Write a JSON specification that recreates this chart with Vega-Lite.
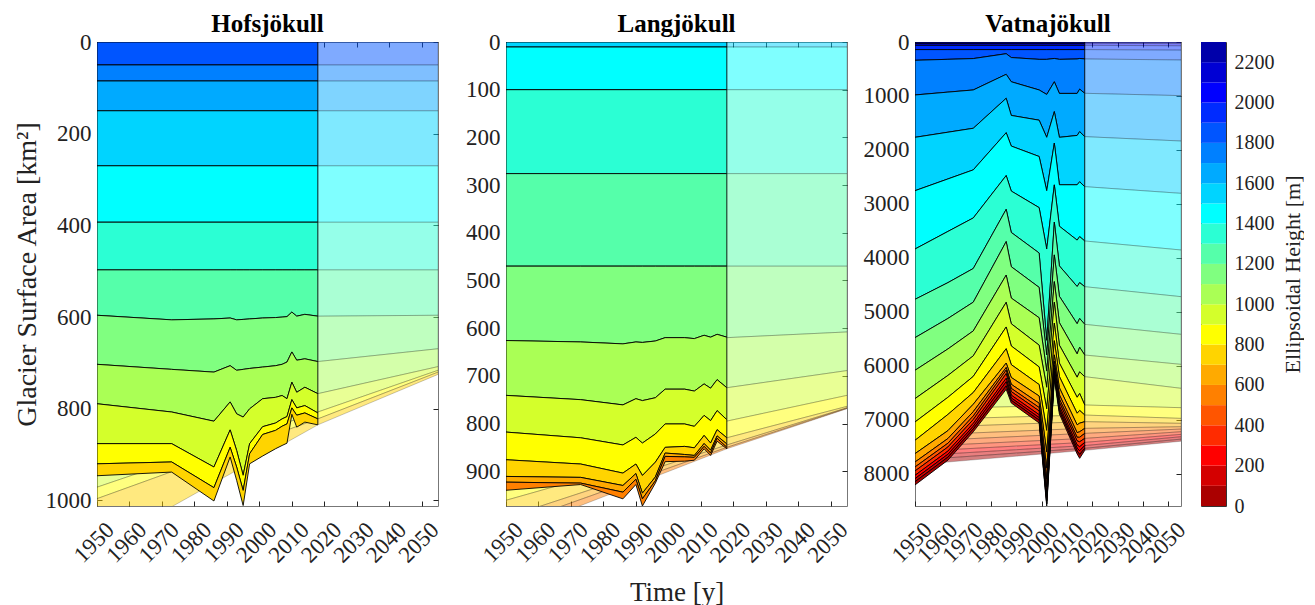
{
"$schema":"https://vega.github.io/schema/vega-lite/v6.json",
"background":"white",
"padding":{"left":12,"top":11,"right":0,"bottom":0},
"spacing":9,
"datasets":{
"hofO":[
{"t":1950,"e":1800,"y":50,"y2":0},{"t":2018,"e":1800,"y":50,"y2":0},
{"t":1950,"e":1700,"y":85,"y2":50},{"t":2018,"e":1700,"y":85,"y2":50},
{"t":1950,"e":1600,"y":150,"y2":85},{"t":2018,"e":1600,"y":150,"y2":85},
{"t":1950,"e":1500,"y":270,"y2":150},{"t":2018,"e":1500,"y":270,"y2":150},
{"t":1950,"e":1400,"y":393,"y2":270},{"t":2018,"e":1400,"y":393,"y2":270},
{"t":1950,"e":1300,"y":497,"y2":393},{"t":2018,"e":1300,"y":497,"y2":393},
{"t":1950,"e":1200,"y":596,"y2":497},{"t":1973,"e":1200,"y":606,"y2":497},{"t":1986,"e":1200,"y":604,"y2":497},{"t":1991,"e":1200,"y":602,"y2":497},{"t":1993,"e":1200,"y":606,"y2":497},{"t":1995,"e":1200,"y":605,"y2":497},{"t":1997,"e":1200,"y":604,"y2":497},{"t":2001,"e":1200,"y":602,"y2":497},{"t":2005,"e":1200,"y":601,"y2":497},{"t":2007,"e":1200,"y":600,"y2":497},{"t":2008.5,"e":1200,"y":599,"y2":497},{"t":2010,"e":1200,"y":589,"y2":497},{"t":2011.5,"e":1200,"y":598,"y2":497},{"t":2014,"e":1200,"y":594,"y2":497},{"t":2018,"e":1200,"y":598,"y2":497},
{"t":1950,"e":1100,"y":703,"y2":596},{"t":1973,"e":1100,"y":714,"y2":606},{"t":1986,"e":1100,"y":720,"y2":604},{"t":1991,"e":1100,"y":706,"y2":602},{"t":1993,"e":1100,"y":716,"y2":606},{"t":1995,"e":1100,"y":714,"y2":605},{"t":1997,"e":1100,"y":712,"y2":604},{"t":2001,"e":1100,"y":709,"y2":602},{"t":2005,"e":1100,"y":706,"y2":601},{"t":2007,"e":1100,"y":703,"y2":600},{"t":2008.5,"e":1100,"y":698,"y2":599},{"t":2010,"e":1100,"y":676,"y2":589},{"t":2011.5,"e":1100,"y":694,"y2":598},{"t":2014,"e":1100,"y":691,"y2":594},{"t":2018,"e":1100,"y":697,"y2":598},
{"t":1950,"e":1000,"y":789,"y2":703},{"t":1973,"e":1000,"y":807,"y2":714},{"t":1986,"e":1000,"y":827,"y2":720},{"t":1991,"e":1000,"y":785,"y2":706},{"t":1993,"e":1000,"y":811,"y2":716},{"t":1995,"e":1000,"y":818,"y2":714},{"t":1997,"e":1000,"y":800,"y2":712},{"t":2001,"e":1000,"y":778,"y2":709},{"t":2005,"e":1000,"y":775,"y2":706},{"t":2007,"e":1000,"y":771,"y2":703},{"t":2008.5,"e":1000,"y":778,"y2":698},{"t":2010,"e":1000,"y":742,"y2":676},{"t":2011.5,"e":1000,"y":764,"y2":694},{"t":2014,"e":1000,"y":753,"y2":691},{"t":2018,"e":1000,"y":767,"y2":697},
{"t":1950,"e":900,"y":876,"y2":789},{"t":1973,"e":900,"y":876,"y2":807},{"t":1986,"e":900,"y":927,"y2":827},{"t":1991,"e":900,"y":846,"y2":785},{"t":1993,"e":900,"y":891,"y2":811},{"t":1995,"e":900,"y":945,"y2":818},{"t":1997,"e":900,"y":876,"y2":800},{"t":2001,"e":900,"y":839,"y2":778},{"t":2005,"e":900,"y":831,"y2":775},{"t":2007,"e":900,"y":822,"y2":771},{"t":2008.5,"e":900,"y":817,"y2":778},{"t":2010,"e":900,"y":780,"y2":742},{"t":2011.5,"e":900,"y":798,"y2":764},{"t":2014,"e":900,"y":793,"y2":753},{"t":2018,"e":900,"y":809,"y2":767},
{"t":1950,"e":800,"y":920,"y2":876},{"t":1973,"e":800,"y":916,"y2":876},{"t":1986,"e":800,"y":972,"y2":927},{"t":1991,"e":800,"y":884,"y2":846},{"t":1993,"e":800,"y":927,"y2":891},{"t":1995,"e":800,"y":978,"y2":945},{"t":1997,"e":800,"y":898,"y2":876},{"t":2001,"e":800,"y":856,"y2":839},{"t":2005,"e":800,"y":847,"y2":831},{"t":2007,"e":800,"y":838,"y2":822},{"t":2008.5,"e":800,"y":833,"y2":817},{"t":2010,"e":800,"y":798,"y2":780},{"t":2011.5,"e":800,"y":814,"y2":798},{"t":2014,"e":800,"y":809,"y2":793},{"t":2018,"e":800,"y":822,"y2":809},
{"t":1950,"e":700,"y":946,"y2":920},{"t":1973,"e":700,"y":938,"y2":916},{"t":1986,"e":700,"y":1001,"y2":972},{"t":1991,"e":700,"y":905,"y2":884},{"t":1993,"e":700,"y":956,"y2":927},{"t":1995,"e":700,"y":1011,"y2":978},{"t":1997,"e":700,"y":920,"y2":898},{"t":2001,"e":700,"y":903,"y2":856},{"t":2005,"e":700,"y":887,"y2":847},{"t":2007,"e":700,"y":880,"y2":838},{"t":2008.5,"e":700,"y":875,"y2":833},{"t":2010,"e":700,"y":812,"y2":798},{"t":2011.5,"e":700,"y":840,"y2":814},{"t":2014,"e":700,"y":829,"y2":809},{"t":2018,"e":700,"y":835,"y2":822}
],
"hofP":[
{"t":1950,"e":1800,"y":50,"y2":0},{"t":2055,"e":1800,"y":50,"y2":0},
{"t":1950,"e":1700,"y":85,"y2":50},{"t":2055,"e":1700,"y":85,"y2":50},
{"t":1950,"e":1600,"y":150,"y2":85},{"t":2055,"e":1600,"y":150,"y2":85},
{"t":1950,"e":1500,"y":270,"y2":150},{"t":2055,"e":1500,"y":270,"y2":150},
{"t":1950,"e":1400,"y":393,"y2":270},{"t":2055,"e":1400,"y":393,"y2":270},
{"t":1950,"e":1300,"y":497,"y2":393},{"t":2055,"e":1300,"y":497,"y2":393},
{"t":1950,"e":1200,"y":598,"y2":497},{"t":2018,"e":1200,"y":598,"y2":497},{"t":2055,"e":1200,"y":596,"y2":497},
{"t":1950,"e":1100,"y":705,"y2":598},{"t":2018,"e":1100,"y":697,"y2":598},{"t":2055,"e":1100,"y":669,"y2":596},
{"t":1950,"e":1000,"y":850,"y2":705},{"t":2018,"e":1000,"y":767,"y2":697},{"t":2055,"e":1000,"y":708,"y2":669},
{"t":1950,"e":900,"y":971,"y2":850},{"t":2018,"e":900,"y":807,"y2":767},{"t":2055,"e":900,"y":716,"y2":708},
{"t":1950,"e":800,"y":996,"y2":971},{"t":2018,"e":800,"y":822,"y2":807},{"t":2055,"e":800,"y":720,"y2":716},
{"t":1950,"e":700,"y":1105,"y2":996},{"t":2018,"e":700,"y":835,"y2":822},{"t":2055,"e":700,"y":725,"y2":720}
],
"lanO":[
{"t":1950,"e":1500,"y":10.5,"y2":0},{"t":2018,"e":1500,"y":10.5,"y2":0},
{"t":1950,"e":1400,"y":100,"y2":10.5},{"t":2018,"e":1400,"y":100,"y2":10.5},
{"t":1950,"e":1300,"y":276,"y2":100},{"t":2018,"e":1300,"y":276,"y2":100},
{"t":1950,"e":1200,"y":470,"y2":276},{"t":2018,"e":1200,"y":470,"y2":276},
{"t":1950,"e":1100,"y":626,"y2":470},{"t":1973,"e":1100,"y":629,"y2":470},{"t":1986,"e":1100,"y":633,"y2":470},{"t":1990,"e":1100,"y":629,"y2":470},{"t":1992,"e":1100,"y":630,"y2":470},{"t":1996,"e":1100,"y":627,"y2":470},{"t":1999,"e":1100,"y":620,"y2":470},{"t":2005,"e":1100,"y":620,"y2":470},{"t":2008,"e":1100,"y":622,"y2":470},{"t":2011,"e":1100,"y":615,"y2":470},{"t":2013,"e":1100,"y":619,"y2":470},{"t":2015,"e":1100,"y":613,"y2":470},{"t":2018,"e":1100,"y":619,"y2":470},
{"t":1950,"e":1000,"y":741,"y2":626},{"t":1973,"e":1000,"y":750,"y2":629},{"t":1986,"e":1000,"y":761,"y2":633},{"t":1990,"e":1000,"y":748,"y2":629},{"t":1992,"e":1000,"y":752,"y2":630},{"t":1996,"e":1000,"y":746,"y2":627},{"t":1999,"e":1000,"y":728,"y2":620},{"t":2005,"e":1000,"y":728,"y2":620},{"t":2008,"e":1000,"y":732,"y2":622},{"t":2011,"e":1000,"y":717,"y2":615},{"t":2013,"e":1000,"y":726,"y2":619},{"t":2015,"e":1000,"y":708,"y2":613},{"t":2018,"e":1000,"y":725,"y2":619},
{"t":1950,"e":900,"y":818,"y2":741},{"t":1973,"e":900,"y":830,"y2":750},{"t":1986,"e":900,"y":845,"y2":761},{"t":1990,"e":900,"y":829,"y2":748},{"t":1992,"e":900,"y":841,"y2":752},{"t":1996,"e":900,"y":822,"y2":746},{"t":1999,"e":900,"y":801,"y2":728},{"t":2005,"e":900,"y":801,"y2":728},{"t":2008,"e":900,"y":806,"y2":732},{"t":2011,"e":900,"y":783,"y2":717},{"t":2013,"e":900,"y":794,"y2":726},{"t":2015,"e":900,"y":773,"y2":708},{"t":2018,"e":900,"y":792,"y2":725},
{"t":1950,"e":800,"y":876,"y2":818},{"t":1973,"e":800,"y":885,"y2":830},{"t":1986,"e":800,"y":904,"y2":845},{"t":1990,"e":800,"y":885,"y2":829},{"t":1992,"e":800,"y":909,"y2":841},{"t":1996,"e":800,"y":881,"y2":822},{"t":1999,"e":800,"y":850,"y2":801},{"t":2005,"e":800,"y":848,"y2":801},{"t":2008,"e":800,"y":851,"y2":806},{"t":2011,"e":800,"y":825,"y2":783},{"t":2013,"e":800,"y":841,"y2":794},{"t":2015,"e":800,"y":813,"y2":773},{"t":2018,"e":800,"y":830,"y2":792},
{"t":1950,"e":700,"y":911,"y2":876},{"t":1973,"e":700,"y":913,"y2":885},{"t":1986,"e":700,"y":930,"y2":904},{"t":1990,"e":700,"y":905,"y2":885},{"t":1992,"e":700,"y":946,"y2":909},{"t":1996,"e":700,"y":912,"y2":881},{"t":1999,"e":700,"y":862,"y2":850},{"t":2005,"e":700,"y":865,"y2":848},{"t":2008,"e":700,"y":867,"y2":851},{"t":2011,"e":700,"y":842,"y2":825},{"t":2013,"e":700,"y":856,"y2":841},{"t":2015,"e":700,"y":826,"y2":813},{"t":2018,"e":700,"y":843,"y2":830},
{"t":1950,"e":600,"y":923,"y2":911},{"t":1973,"e":600,"y":925,"y2":913},{"t":1986,"e":600,"y":944,"y2":930},{"t":1990,"e":600,"y":917,"y2":905},{"t":1992,"e":600,"y":958,"y2":946},{"t":1996,"e":600,"y":920,"y2":912},{"t":1999,"e":600,"y":869,"y2":862},{"t":2005,"e":600,"y":870,"y2":865},{"t":2008,"e":600,"y":871,"y2":867},{"t":2011,"e":600,"y":848,"y2":842},{"t":2013,"e":600,"y":862,"y2":856},{"t":2015,"e":600,"y":831,"y2":826},{"t":2018,"e":600,"y":850,"y2":843},
{"t":1950,"e":500,"y":940,"y2":923},{"t":1973,"e":500,"y":928,"y2":925},{"t":1986,"e":500,"y":958,"y2":944},{"t":1990,"e":500,"y":928,"y2":917},{"t":1992,"e":500,"y":973,"y2":958},{"t":1996,"e":500,"y":925,"y2":920},{"t":1999,"e":500,"y":880,"y2":869},{"t":2005,"e":500,"y":879,"y2":870},{"t":2008,"e":500,"y":877,"y2":871},{"t":2011,"e":500,"y":853,"y2":848},{"t":2013,"e":500,"y":867,"y2":862},{"t":2015,"e":500,"y":837,"y2":831},{"t":2018,"e":500,"y":853,"y2":850}
],
"lanP":[
{"t":1950,"e":1500,"y":10.5,"y2":0},{"t":2055,"e":1500,"y":10.5,"y2":0},
{"t":1950,"e":1400,"y":100,"y2":10.5},{"t":2055,"e":1400,"y":100,"y2":10.5},
{"t":1950,"e":1300,"y":276,"y2":100},{"t":2055,"e":1300,"y":276,"y2":100},
{"t":1950,"e":1200,"y":470,"y2":276},{"t":2055,"e":1200,"y":470,"y2":276},
{"t":1950,"e":1100,"y":626,"y2":470},{"t":2018,"e":1100,"y":620,"y2":470},{"t":2055,"e":1100,"y":608,"y2":470},
{"t":1950,"e":1000,"y":745,"y2":626},{"t":2018,"e":1000,"y":725,"y2":620},{"t":2055,"e":1000,"y":689,"y2":608},
{"t":1950,"e":900,"y":930,"y2":745},{"t":2018,"e":900,"y":795,"y2":725},{"t":2055,"e":900,"y":741,"y2":689},
{"t":1950,"e":800,"y":961,"y2":930},{"t":2018,"e":800,"y":830,"y2":795},{"t":2055,"e":800,"y":764,"y2":741},
{"t":1950,"e":700,"y":997,"y2":961},{"t":2018,"e":700,"y":845,"y2":830},{"t":2055,"e":700,"y":767,"y2":764},
{"t":1950,"e":600,"y":1015,"y2":997},{"t":2018,"e":600,"y":850,"y2":845},{"t":2055,"e":600,"y":768,"y2":767},
{"t":1950,"e":500,"y":1033,"y2":1015},{"t":2018,"e":500,"y":853,"y2":850},{"t":2055,"e":500,"y":769,"y2":768}
],
"vatO":[
{"t":1950,"e":2100,"y":25,"y2":0},{"t":2017,"e":2100,"y":25,"y2":0},
{"t":1950,"e":2000,"y":61,"y2":25},{"t":2017,"e":2000,"y":61,"y2":25},
{"t":1950,"e":1900,"y":141,"y2":61},{"t":2017,"e":1900,"y":141,"y2":61},
{"t":1950,"e":1800,"y":339,"y2":141},{"t":1963,"e":1800,"y":321,"y2":141},{"t":1973,"e":1800,"y":307,"y2":141},{"t":1986,"e":1800,"y":217,"y2":141},{"t":1988,"e":1800,"y":288,"y2":141},{"t":1999,"e":1800,"y":322,"y2":141},{"t":2002,"e":1800,"y":322,"y2":141},{"t":2005,"e":1800,"y":305,"y2":141},{"t":2007,"e":1800,"y":322,"y2":141},{"t":2014,"e":1800,"y":315,"y2":141},{"t":2015,"e":1800,"y":305,"y2":141},{"t":2017,"e":1800,"y":314,"y2":141},
{"t":1950,"e":1700,"y":982,"y2":339},{"t":1963,"e":1700,"y":929,"y2":321},{"t":1973,"e":1700,"y":889,"y2":307},{"t":1986,"e":1700,"y":599,"y2":217},{"t":1988,"e":1700,"y":737,"y2":288},{"t":1999,"e":1700,"y":889,"y2":322},{"t":2002,"e":1700,"y":972,"y2":322},{"t":2005,"e":1700,"y":737,"y2":305},{"t":2007,"e":1700,"y":953,"y2":322},{"t":2014,"e":1700,"y":953,"y2":315},{"t":2015,"e":1700,"y":874,"y2":305},{"t":2017,"e":1700,"y":951,"y2":314},
{"t":1950,"e":1600,"y":1767,"y2":982},{"t":1963,"e":1600,"y":1672,"y2":929},{"t":1973,"e":1600,"y":1599,"y2":889},{"t":1986,"e":1600,"y":1043,"y2":599},{"t":1988,"e":1600,"y":1361,"y2":737},{"t":1999,"e":1600,"y":1449,"y2":889},{"t":2002,"e":1600,"y":1767,"y2":972},{"t":2005,"e":1600,"y":1290,"y2":737},{"t":2007,"e":1600,"y":1767,"y2":953},{"t":2014,"e":1600,"y":1732,"y2":953},{"t":2015,"e":1600,"y":1661,"y2":874},{"t":2017,"e":1600,"y":1754,"y2":951},
{"t":1950,"e":1500,"y":2756,"y2":1767},{"t":1963,"e":1500,"y":2538,"y2":1672},{"t":1973,"e":1500,"y":2370,"y2":1599},{"t":1986,"e":1500,"y":1681,"y2":1043},{"t":1988,"e":1500,"y":1929,"y2":1361},{"t":1999,"e":1500,"y":2122,"y2":1449},{"t":2002,"e":1500,"y":2756,"y2":1767},{"t":2005,"e":1500,"y":1874,"y2":1290},{"t":2007,"e":1500,"y":2646,"y2":1767},{"t":2014,"e":1500,"y":2646,"y2":1732},{"t":2015,"e":1500,"y":2591,"y2":1661},{"t":2017,"e":1500,"y":2681,"y2":1754},
{"t":1950,"e":1400,"y":3837,"y2":2756},{"t":1963,"e":1400,"y":3511,"y2":2538},{"t":1973,"e":1400,"y":3261,"y2":2370},{"t":1986,"e":1400,"y":2475,"y2":1681},{"t":1988,"e":1400,"y":2763,"y2":1929},{"t":1999,"e":1400,"y":3070,"y2":2122},{"t":2002,"e":1400,"y":3837,"y2":2756},{"t":2005,"e":1400,"y":2648,"y2":1874},{"t":2007,"e":1400,"y":3415,"y2":2646},{"t":2014,"e":1400,"y":3672,"y2":2646},{"t":2015,"e":1400,"y":3607,"y2":2591},{"t":2017,"e":1400,"y":3688,"y2":2681},
{"t":1950,"e":1300,"y":4770,"y2":3837},{"t":1963,"e":1300,"y":4460,"y2":3511},{"t":1973,"e":1300,"y":4198,"y2":3261},{"t":1986,"e":1300,"y":3101,"y2":2475},{"t":1988,"e":1300,"y":3530,"y2":2763},{"t":1999,"e":1300,"y":3911,"y2":3070},{"t":2002,"e":1300,"y":5530,"y2":3837},{"t":2005,"e":1300,"y":3339,"y2":2648},{"t":2007,"e":1300,"y":4150,"y2":3415},{"t":2014,"e":1300,"y":4532,"y2":3672},{"t":2015,"e":1300,"y":4460,"y2":3607},{"t":2017,"e":1300,"y":4535,"y2":3688},
{"t":1950,"e":1200,"y":5480,"y2":4770},{"t":1963,"e":1200,"y":5124,"y2":4460},{"t":1973,"e":1200,"y":4822,"y2":4198},{"t":1986,"e":1200,"y":3699,"y2":3101},{"t":1988,"e":1200,"y":4165,"y2":3530},{"t":1999,"e":1200,"y":4548,"y2":3911},{"t":2002,"e":1200,"y":5800,"y2":5530},{"t":2005,"e":1200,"y":3946,"y2":3339},{"t":2007,"e":1200,"y":4713,"y2":4150},{"t":2014,"e":1200,"y":5222,"y2":4532},{"t":2015,"e":1200,"y":5124,"y2":4460},{"t":2017,"e":1200,"y":5233,"y2":4535},
{"t":1950,"e":1100,"y":6085,"y2":5480},{"t":1963,"e":1100,"y":5689,"y2":5124},{"t":1973,"e":1100,"y":5355,"y2":4822},{"t":1986,"e":1100,"y":4320,"y2":3699},{"t":1988,"e":1100,"y":4746,"y2":4165},{"t":1999,"e":1100,"y":5111,"y2":4548},{"t":2002,"e":1100,"y":6100,"y2":5800},{"t":2005,"e":1100,"y":4442,"y2":3946},{"t":2007,"e":1100,"y":5203,"y2":4713},{"t":2014,"e":1100,"y":5781,"y2":5222},{"t":2015,"e":1100,"y":5659,"y2":5124},{"t":2017,"e":1100,"y":5802,"y2":5233},
{"t":1950,"e":1000,"y":6610,"y2":6085},{"t":1963,"e":1000,"y":6180,"y2":5689},{"t":1973,"e":1000,"y":5817,"y2":5355},{"t":1986,"e":1000,"y":4825,"y2":4320},{"t":1988,"e":1000,"y":5222,"y2":4746},{"t":1999,"e":1000,"y":5619,"y2":5111},{"t":2002,"e":1000,"y":6400,"y2":6100},{"t":2005,"e":1000,"y":4825,"y2":4442},{"t":2007,"e":1000,"y":5619,"y2":5203},{"t":2014,"e":1000,"y":6213,"y2":5781},{"t":2015,"e":1000,"y":6114,"y2":5659},{"t":2017,"e":1000,"y":6203,"y2":5802},
{"t":1950,"e":900,"y":7043,"y2":6610},{"t":1963,"e":900,"y":6585,"y2":6180},{"t":1973,"e":900,"y":6198,"y2":5817},{"t":1986,"e":900,"y":5282,"y2":4825},{"t":1988,"e":900,"y":5634,"y2":5222},{"t":1999,"e":900,"y":6022,"y2":5619},{"t":2002,"e":900,"y":6800,"y2":6400},{"t":2005,"e":900,"y":5212,"y2":4825},{"t":2007,"e":900,"y":5951,"y2":5619},{"t":2014,"e":900,"y":6585,"y2":6213},{"t":2015,"e":900,"y":6515,"y2":6114},{"t":2017,"e":900,"y":6728,"y2":6203},
{"t":1950,"e":800,"y":7383,"y2":7043},{"t":1963,"e":800,"y":6903,"y2":6585},{"t":1973,"e":800,"y":6497,"y2":6198},{"t":1986,"e":800,"y":5685,"y2":5282},{"t":1988,"e":800,"y":5980,"y2":5634},{"t":1999,"e":800,"y":6349,"y2":6022},{"t":2002,"e":800,"y":7200,"y2":6800},{"t":2005,"e":800,"y":5537,"y2":5212},{"t":2007,"e":800,"y":6202,"y2":5951},{"t":2014,"e":800,"y":6881,"y2":6585},{"t":2015,"e":800,"y":6829,"y2":6515},{"t":2017,"e":800,"y":6914,"y2":6728},
{"t":1950,"e":700,"y":7630,"y2":7383},{"t":1963,"e":700,"y":7203,"y2":6903},{"t":1973,"e":700,"y":6714,"y2":6497},{"t":1986,"e":700,"y":5951,"y2":5685},{"t":1988,"e":700,"y":6218,"y2":5980},{"t":1999,"e":700,"y":6562,"y2":6349},{"t":2002,"e":700,"y":7600,"y2":7200},{"t":2005,"e":700,"y":5799,"y2":5537},{"t":2007,"e":700,"y":6409,"y2":6202},{"t":2014,"e":700,"y":7096,"y2":6881},{"t":2015,"e":700,"y":7065,"y2":6829},{"t":2017,"e":700,"y":7037,"y2":6914},
{"t":1950,"e":600,"y":7785,"y2":7630},{"t":1963,"e":600,"y":7349,"y2":7203},{"t":1973,"e":600,"y":6851,"y2":6714},{"t":1986,"e":600,"y":6033,"y2":5951},{"t":1988,"e":600,"y":6345,"y2":6218},{"t":1999,"e":600,"y":6695,"y2":6562},{"t":2002,"e":600,"y":7900,"y2":7600},{"t":2005,"e":600,"y":5917,"y2":5799},{"t":2007,"e":600,"y":6539,"y2":6409},{"t":2014,"e":600,"y":7240,"y2":7096},{"t":2015,"e":600,"y":7224,"y2":7065},{"t":2017,"e":600,"y":7161,"y2":7037},
{"t":1950,"e":500,"y":7877,"y2":7785},{"t":1963,"e":500,"y":7436,"y2":7349},{"t":1973,"e":500,"y":6932,"y2":6851},{"t":1986,"e":500,"y":6081,"y2":6033},{"t":1988,"e":500,"y":6420,"y2":6345},{"t":1999,"e":500,"y":6774,"y2":6695},{"t":2002,"e":500,"y":8100,"y2":7900},{"t":2005,"e":500,"y":5987,"y2":5917},{"t":2007,"e":500,"y":6617,"y2":6539},{"t":2014,"e":500,"y":7326,"y2":7240},{"t":2015,"e":500,"y":7326,"y2":7224},{"t":2017,"e":500,"y":7254,"y2":7161},
{"t":1950,"e":400,"y":7951,"y2":7877},{"t":1963,"e":400,"y":7506,"y2":7436},{"t":1973,"e":400,"y":6997,"y2":6932},{"t":1986,"e":400,"y":6146,"y2":6081},{"t":1988,"e":400,"y":6480,"y2":6420},{"t":1999,"e":400,"y":6838,"y2":6774},{"t":2002,"e":400,"y":8250,"y2":8100},{"t":2005,"e":400,"y":6043,"y2":5987},{"t":2007,"e":400,"y":6679,"y2":6617},{"t":2014,"e":400,"y":7394,"y2":7326},{"t":2015,"e":400,"y":7410,"y2":7326},{"t":2017,"e":400,"y":7347,"y2":7254},
{"t":1950,"e":300,"y":8032,"y2":7951},{"t":1963,"e":300,"y":7582,"y2":7506},{"t":1973,"e":300,"y":7068,"y2":6997},{"t":1986,"e":300,"y":6233,"y2":6146},{"t":1988,"e":300,"y":6546,"y2":6480},{"t":1999,"e":300,"y":6908,"y2":6838},{"t":2002,"e":300,"y":8400,"y2":8250},{"t":2005,"e":300,"y":6104,"y2":6043},{"t":2007,"e":300,"y":6747,"y2":6679},{"t":2014,"e":300,"y":7470,"y2":7394},{"t":2015,"e":300,"y":7502,"y2":7410},{"t":2017,"e":300,"y":7421,"y2":7347},
{"t":1950,"e":200,"y":8094,"y2":8032},{"t":1963,"e":200,"y":7641,"y2":7582},{"t":1973,"e":200,"y":7123,"y2":7068},{"t":1986,"e":200,"y":6297,"y2":6233},{"t":1988,"e":200,"y":6597,"y2":6546},{"t":1999,"e":200,"y":6961,"y2":6908},{"t":2002,"e":200,"y":8500,"y2":8400},{"t":2005,"e":200,"y":6151,"y2":6104},{"t":2007,"e":200,"y":6799,"y2":6747},{"t":2014,"e":200,"y":7527,"y2":7470},{"t":2015,"e":200,"y":7576,"y2":7502},{"t":2017,"e":200,"y":7480,"y2":7421},
{"t":1950,"e":100,"y":8150,"y2":8094},{"t":1963,"e":100,"y":7694,"y2":7641},{"t":1973,"e":100,"y":7172,"y2":7123},{"t":1986,"e":100,"y":6373,"y2":6297},{"t":1988,"e":100,"y":6642,"y2":6597},{"t":1999,"e":100,"y":7009,"y2":6961},{"t":2002,"e":100,"y":8560,"y2":8500},{"t":2005,"e":100,"y":6194,"y2":6151},{"t":2007,"e":100,"y":6846,"y2":6799},{"t":2014,"e":100,"y":7580,"y2":7527},{"t":2015,"e":100,"y":7645,"y2":7576},{"t":2017,"e":100,"y":7530,"y2":7480},
{"t":1950,"e":0,"y":8210,"y2":8150},{"t":1963,"e":0,"y":7750,"y2":7694},{"t":1973,"e":0,"y":7225,"y2":7172},{"t":1986,"e":0,"y":6437,"y2":6373},{"t":1988,"e":0,"y":6691,"y2":6642},{"t":1999,"e":0,"y":7061,"y2":7009},{"t":2002,"e":0,"y":8600,"y2":8560},{"t":2005,"e":0,"y":6240,"y2":6194},{"t":2007,"e":0,"y":6896,"y2":6846},{"t":2014,"e":0,"y":7635,"y2":7580},{"t":2015,"e":0,"y":7717,"y2":7645},{"t":2017,"e":0,"y":7569,"y2":7530}
],
"vatP":[
{"t":1950,"e":2100,"y":25,"y2":0},{"t":2017,"e":2100,"y":25,"y2":0},{"t":2055,"e":2100,"y":30,"y2":0},
{"t":1950,"e":2000,"y":61,"y2":25},{"t":2017,"e":2000,"y":61,"y2":25},{"t":2055,"e":2000,"y":70,"y2":30},
{"t":1950,"e":1900,"y":141,"y2":61},{"t":2017,"e":1900,"y":141,"y2":61},{"t":2055,"e":1900,"y":150,"y2":70},
{"t":1950,"e":1800,"y":314,"y2":141},{"t":2017,"e":1800,"y":314,"y2":141},{"t":2055,"e":1800,"y":333,"y2":150},
{"t":1950,"e":1700,"y":951,"y2":314},{"t":2017,"e":1700,"y":951,"y2":314},{"t":2055,"e":1700,"y":994,"y2":333},
{"t":1950,"e":1600,"y":1754,"y2":951},{"t":2017,"e":1600,"y":1754,"y2":951},{"t":2055,"e":1600,"y":1835,"y2":994},
{"t":1950,"e":1500,"y":2681,"y2":1754},{"t":2017,"e":1500,"y":2681,"y2":1754},{"t":2055,"e":1500,"y":2805,"y2":1835},
{"t":1950,"e":1400,"y":3688,"y2":2681},{"t":2017,"e":1400,"y":3688,"y2":2681},{"t":2055,"e":1400,"y":3855,"y2":2805},
{"t":1950,"e":1300,"y":4535,"y2":3688},{"t":2017,"e":1300,"y":4535,"y2":3688},{"t":2055,"e":1300,"y":4720,"y2":3855},
{"t":1950,"e":1200,"y":5233,"y2":4535},{"t":2017,"e":1200,"y":5233,"y2":4535},{"t":2055,"e":1200,"y":5418,"y2":4720},
{"t":1950,"e":1100,"y":5802,"y2":5233},{"t":2017,"e":1100,"y":5802,"y2":5233},{"t":2055,"e":1100,"y":5975,"y2":5418},
{"t":1950,"e":1000,"y":6203,"y2":5802},{"t":2017,"e":1000,"y":6203,"y2":5802},{"t":2055,"e":1000,"y":6419,"y2":5975},
{"t":1950,"e":900,"y":6800,"y2":6203},{"t":2017,"e":900,"y":6728,"y2":6203},{"t":2055,"e":900,"y":6778,"y2":6419},
{"t":1950,"e":800,"y":7000,"y2":6800},{"t":2017,"e":800,"y":6914,"y2":6728},{"t":2055,"e":800,"y":6976,"y2":6778},
{"t":1950,"e":700,"y":7150,"y2":7000},{"t":2017,"e":700,"y":7037,"y2":6914},{"t":2055,"e":700,"y":7068,"y2":6976},
{"t":1950,"e":600,"y":7290,"y2":7150},{"t":2017,"e":600,"y":7161,"y2":7037},{"t":2055,"e":600,"y":7130,"y2":7068},
{"t":1950,"e":500,"y":7400,"y2":7290},{"t":2017,"e":500,"y":7254,"y2":7161},{"t":2055,"e":500,"y":7174,"y2":7130},
{"t":1950,"e":400,"y":7500,"y2":7400},{"t":2017,"e":400,"y":7347,"y2":7254},{"t":2055,"e":400,"y":7223,"y2":7174},
{"t":1950,"e":300,"y":7590,"y2":7500},{"t":2017,"e":300,"y":7421,"y2":7347},{"t":2055,"e":300,"y":7272,"y2":7223},
{"t":1950,"e":200,"y":7670,"y2":7590},{"t":2017,"e":200,"y":7480,"y2":7421},{"t":2055,"e":200,"y":7316,"y2":7272},
{"t":1950,"e":100,"y":7750,"y2":7670},{"t":2017,"e":100,"y":7530,"y2":7480},{"t":2055,"e":100,"y":7360,"y2":7316},
{"t":1950,"e":0,"y":7837,"y2":7750},{"t":2017,"e":0,"y":7569,"y2":7530},{"t":2055,"e":0,"y":7400,"y2":7360}
],
"cb":[
{"e":0,"e2":100},{"e":100,"e2":200},{"e":200,"e2":300},{"e":300,"e2":400},{"e":400,"e2":500},{"e":500,"e2":600},{"e":600,"e2":700},{"e":700,"e2":800},{"e":800,"e2":900},{"e":900,"e2":1000},{"e":1000,"e2":1100},{"e":1100,"e2":1200},{"e":1200,"e2":1300},{"e":1300,"e2":1400},{"e":1400,"e2":1500},{"e":1500,"e2":1600},{"e":1600,"e2":1700},{"e":1700,"e2":1800},{"e":1800,"e2":1900},{"e":1900,"e2":2000},{"e":2000,"e2":2100},{"e":2100,"e2":2200},{"e":2200,"e2":2300}
]
},
"hconcat":[
{
"width":341,"height":464,
"title":{"text":"Hofsjökull"},
"layer":[
{"data":{"name":"hofP"},
"mark":{"type":"area","fillOpacity":0.5,"stroke":"#000","strokeOpacity":0.3,"strokeWidth":0.7,"clip":true},
"encoding":{
"x":{"field":"t","type":"quantitative","scale":{"domain":[1950,2055],"nice":false,"zero":false},"axis":{"orient":"bottom","format":"d","values":[1950,1960,1970,1980,1990,2000,2010,2020,2030,2040,2050],"labelAngle":-45,"labelAlign":"right","labelBaseline":"middle","labelOffset":13,"labelPadding":25,"title":null}},
"y":{"field":"y","type":"quantitative","scale":{"domain":[0,1012],"reverse":true,"nice":false,"zero":false},"axis":{"orient":"left","format":"d","values":[0,200,400,600,800,1000],"labelPadding":11,"minExtent":52,"title":"Glacier Surface Area [km²]","titleFontSize":28,"titlePadding":4}},
"y2":{"field":"y2"},
"color":{"field":"e","type":"ordinal","scale":{"domain":[0,100,200,300,400,500,600,700,800,900,1000,1100,1200,1300,1400,1500,1600,1700,1800,1900,2000,2100,2200],"range":["#AA0000","#D40000","#FF0000","#FF2B00","#FF5500","#FF8000","#FFAA00","#FFD400","#FFFF00","#D4FF2B","#AAFF55","#80FF80","#55FFAA","#2BFFD4","#00FFFF","#00D4FF","#00AAFF","#0080FF","#0055FF","#002BFF","#0000FF","#0000D4","#0000AA"]},"legend":null}
}},
{"data":{"name":"hofO"},
"mark":{"type":"area","fillOpacity":1,"stroke":"#000","strokeWidth":0.9,"strokeJoin":"round","clip":true},
"encoding":{
"x":{"field":"t","type":"quantitative","axis":{"orient":"top","values":[1950,1960,1970,1980,1990,2000,2010,2020,2030,2040,2050],"labels":false,"title":null,"maxExtent":0}},
"y":{"field":"y","type":"quantitative","axis":{"orient":"right","values":[0,200,400,600,800,1000],"labels":false,"title":null,"maxExtent":0}},
"y2":{"field":"y2"},
"color":{"field":"e","type":"ordinal","legend":null}
}}
],
"resolve":{"axis":{"x":"independent","y":"independent"}}
},
{
"width":341,"height":464,
"title":{"text":"Langjökull"},
"layer":[
{"data":{"name":"lanP"},
"mark":{"type":"area","fillOpacity":0.5,"stroke":"#000","strokeOpacity":0.3,"strokeWidth":0.7,"clip":true},
"encoding":{
"x":{"field":"t","type":"quantitative","scale":{"domain":[1950,2055],"nice":false,"zero":false},"axis":{"orient":"bottom","format":"d","values":[1950,1960,1970,1980,1990,2000,2010,2020,2030,2040,2050],"labelAngle":-45,"labelAlign":"right","labelBaseline":"middle","labelOffset":13,"labelPadding":25,"title":"Time [y]","titleFontSize":27,"titlePadding":12}},
"y":{"field":"y","type":"quantitative","scale":{"domain":[0,973],"reverse":true,"nice":false,"zero":false},"axis":{"orient":"left","format":"d","values":[0,100,200,300,400,500,600,700,800,900],"labelPadding":11,"minExtent":52,"title":null}},
"y2":{"field":"y2"},
"color":{"field":"e","type":"ordinal","legend":null}
}},
{"data":{"name":"lanO"},
"mark":{"type":"area","fillOpacity":1,"stroke":"#000","strokeWidth":0.9,"strokeJoin":"round","clip":true},
"encoding":{
"x":{"field":"t","type":"quantitative","axis":{"orient":"top","values":[1950,1960,1970,1980,1990,2000,2010,2020,2030,2040,2050],"labels":false,"title":null,"maxExtent":0}},
"y":{"field":"y","type":"quantitative","axis":{"orient":"right","values":[0,100,200,300,400,500,600,700,800,900],"labels":false,"title":null,"maxExtent":0}},
"y2":{"field":"y2"},
"color":{"field":"e","type":"ordinal","legend":null}
}}
],
"resolve":{"axis":{"x":"independent","y":"independent"}}
},
{
"width":266,"height":464,
"title":{"text":"Vatnajökull"},
"layer":[
{"data":{"name":"vatP"},
"mark":{"type":"area","fillOpacity":0.5,"stroke":"#000","strokeOpacity":0.3,"strokeWidth":0.7,"clip":true},
"encoding":{
"x":{"field":"t","type":"quantitative","scale":{"domain":[1950,2055],"nice":false,"zero":false},"axis":{"orient":"bottom","format":"d","values":[1950,1960,1970,1980,1990,2000,2010,2020,2030,2040,2050],"labelAngle":-45,"labelAlign":"right","labelBaseline":"middle","labelOffset":13,"labelPadding":25,"title":null}},
"y":{"field":"y","type":"quantitative","scale":{"domain":[0,8600],"reverse":true,"nice":false,"zero":false},"axis":{"orient":"left","format":"d","values":[0,1000,2000,3000,4000,5000,6000,7000,8000],"labelPadding":11,"minExtent":52,"title":null}},
"y2":{"field":"y2"},
"color":{"field":"e","type":"ordinal","legend":null}
}},
{"data":{"name":"vatO"},
"mark":{"type":"area","fillOpacity":1,"stroke":"#000","strokeWidth":0.9,"strokeJoin":"round","clip":true},
"encoding":{
"x":{"field":"t","type":"quantitative","axis":{"orient":"top","values":[1950,1960,1970,1980,1990,2000,2010,2020,2030,2040,2050],"labels":false,"title":null,"maxExtent":0}},
"y":{"field":"y","type":"quantitative","axis":{"orient":"right","values":[0,1000,2000,3000,4000,5000,6000,7000,8000],"labels":false,"title":null,"maxExtent":0}},
"y2":{"field":"y2"},
"color":{"field":"e","type":"ordinal","legend":null}
}}
],
"resolve":{"axis":{"x":"independent","y":"independent"}}
},
{
"width":25,"height":464,
"title":{"text":" "},
"data":{"name":"cb"},
"view":{"stroke":"#333"},
"mark":{"type":"rect"},
"encoding":{
"y":{"field":"e","type":"quantitative","scale":{"domain":[0,2300],"nice":false,"zero":false},"axis":{"orient":"right","format":"d","values":[0,200,400,600,800,1000,1200,1400,1600,1800,2000,2200],"labelFontSize":20,"labelPadding":8,"ticks":false,"title":"Ellipsoidal Height [m]","titleFontSize":22,"titleAngle":270,"titleBaseline":"top","titlePadding":8}},
"y2":{"field":"e2"},
"color":{"field":"e","type":"ordinal","legend":null}
}
}
],
"config":{
"font":"Liberation Serif",
"view":{"stroke":"#777","strokeWidth":1},
"axis":{"grid":false,"domain":false,"zindex":1,"labelFont":"Liberation Serif","labelFontSize":23,"labelColor":"#222","labelFlush":false,"labelOverlap":false,"titleFont":"Liberation Serif","titleFontSize":27,"titleFontWeight":"normal","titleColor":"#222","tickSize":-5,"tickColor":"#222","tickWidth":1},
"title":{"font":"Liberation Serif","fontSize":25,"fontWeight":"bold","color":"#000","anchor":"middle","offset":-6.3,"baseline":"alphabetic","frame":"group"}
}
}
